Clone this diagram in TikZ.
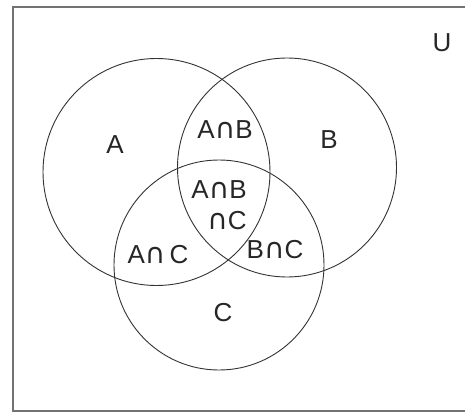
\documentclass[tikz,border=0pt]{standalone}
\usepackage{fontspec}
\setmainfont{Liberation Sans}
\newfontfamily\capfont{DejaVu Sans}
\newcommand{\ic}{{\capfont\fontsize{28}{29}\selectfont ∩}}
\begin{document}
\begin{tikzpicture}[x=1pt,y=-1pt,
  setcircle/.style={draw=black!80,line width=0.9pt},
  lbl/.style={font=\fontsize{26}{29}\selectfont,text=black!85,inner sep=0pt}]
\useasboundingbox (0,0) rectangle (465,414);
\fill[white] (0,0) rectangle (465,414);
\draw[draw=black!55,line width=1.5pt] (13,7) rectangle (466,411);
\node[setcircle,circle,minimum size=227pt,inner sep=0pt] (cA) at (156.5,172) {};
\node[setcircle,circle,minimum size=219pt,inner sep=0pt] (cB) at (287,167.5) {};
\node[setcircle,circle,minimum size=210pt,inner sep=0pt] (cC) at (219,265) {};
\node[lbl] (U) at (442,43) {U};
\node[lbl] (A) at (115,145) {A};
\node[lbl] (B) at (329,140) {B};
\node[lbl] (C) at (223,313) {C};
\node[lbl] (AB) at (225,130) {A\ic B};
\node[lbl] (ABC1) at (219,190) {A\ic B};
\node[lbl] (ABC2) at (227,221) {\ic C};
\node[lbl] (AC) at (158,255) {A\ic\,C};
\node[lbl] (BC) at (275,250) {B\ic C};
\end{tikzpicture}
\end{document}
